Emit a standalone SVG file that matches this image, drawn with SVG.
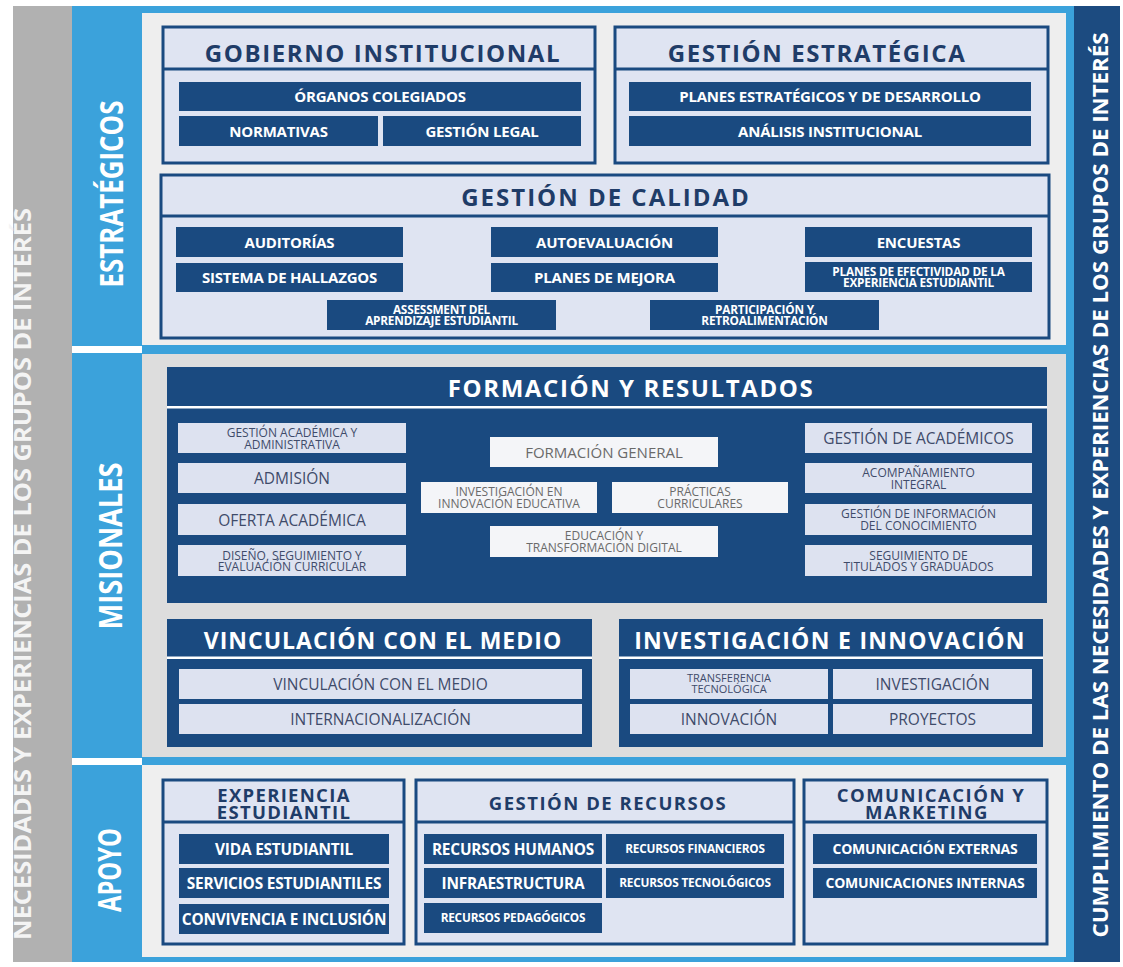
<svg xmlns="http://www.w3.org/2000/svg" width="1123" height="967" viewBox="0 0 1123 967">
<style>
.t{font-family:'Open Sans','DejaVu Sans',sans-serif;text-anchor:middle}
.nv{fill:#1a4a80}
.lb{fill:#dfe4f2;stroke:#1a4a80;stroke-width:3}
.sep{stroke:#1a4a80;stroke-width:3}
.wsep{fill:#ffffff}
.li{fill:#dde2f0}
.wi{fill:#f4f5f8}
.h1{font-size:24px;font-weight:700;fill:#1f3c68;letter-spacing:1.6px}
.h1w{font-size:23px;font-weight:700;fill:#ffffff;letter-spacing:1px}
.h2{font-size:18.5px;font-weight:700;fill:#1f3c68;letter-spacing:1.3px}
.iw{font-size:15px;font-weight:700;fill:#ffffff;letter-spacing:-0.2px}
.iws{font-size:11.8px;font-weight:700;fill:#ffffff;letter-spacing:-0.2px}
.iwm{font-size:14px;font-weight:700;fill:#ffffff;letter-spacing:-0.2px}
.tl{font-size:15.5px;fill:#3f4b6a}
.tls{font-size:12px;fill:#3f4b6a}
.tg{font-size:15px;fill:#6a6a6a}
.tgs{font-size:12px;fill:#6a6a6a}
.side{font-size:32px;font-weight:700;fill:#ffffff}
.band{font-size:23px;font-weight:700;fill:#f4f4f4}
</style>
<rect width="1123" height="967" fill="#ffffff"/>
<g id="frame">
<rect x="13" y="6" width="59" height="956" fill="#b1b1b1"/>
<rect x="72" y="6" width="1002" height="956" fill="#3ba2db"/>
<rect x="72" y="346" width="70" height="7" fill="#ffffff"/>
<rect x="72" y="758" width="70" height="7" fill="#ffffff"/>
<rect x="1074" y="6" width="46" height="956" fill="#1c4b80"/>
<rect x="142" y="13" width="924" height="332" fill="#eeeeee"/>
<rect x="142" y="354" width="924" height="403" fill="#dddddd"/>
<rect x="142" y="765" width="924" height="192" fill="#efefef"/>
</g>
<g id="labels">
<text class="t band" transform="translate(31,574) rotate(-90)" textLength="732" lengthAdjust="spacingAndGlyphs">NECESIDADES Y EXPERIENCIAS DE LOS GRUPOS DE INTERÉS</text>
<text class="t band" transform="translate(1108,485) rotate(-90)" textLength="905" lengthAdjust="spacingAndGlyphs" style="font-size:22px;fill:#ffffff">CUMPLIMIENTO DE LAS NECESIDADES Y EXPERIENCIAS DE LOS GRUPOS DE INTERÉS</text>
<text class="t side" transform="translate(123,194) rotate(-90)" textLength="187" lengthAdjust="spacingAndGlyphs">ESTRATÉGICOS</text>
<text class="t side" transform="translate(122,546) rotate(-90)" textLength="167" lengthAdjust="spacingAndGlyphs">MISIONALES</text>
<text class="t side" transform="translate(121,870) rotate(-90)" textLength="84" lengthAdjust="spacingAndGlyphs">APOYO</text>
</g>
<g id="gobierno">
<rect class="lb" x="163" y="27" width="432" height="136"/>
<line class="sep" x1="163" y1="69" x2="595" y2="69"/>
<text class="t h1" x="383" y="62">GOBIERNO INSTITUCIONAL</text>
<rect class="nv" x="179" y="82" width="402" height="29"/>
<text class="t iw" x="380" y="102">ÓRGANOS COLEGIADOS</text>
<rect class="nv" x="179" y="116" width="199" height="30"/>
<text class="t iw" x="278.5" y="136.5">NORMATIVAS</text>
<rect class="nv" x="383" y="116" width="198" height="30"/>
<text class="t iw" x="482" y="136.5">GESTIÓN LEGAL</text>
</g>
<g id="estrategica">
<rect class="lb" x="615" y="27" width="433" height="136"/>
<line class="sep" x1="615" y1="69" x2="1048" y2="69"/>
<text class="t h1" x="817" y="62">GESTIÓN ESTRATÉGICA</text>
<rect class="nv" x="629" y="82" width="402" height="29"/>
<text class="t iw" x="830" y="102">PLANES ESTRATÉGICOS Y DE DESARROLLO</text>
<rect class="nv" x="629" y="116" width="402" height="30"/>
<text class="t iw" x="830" y="136.5">ANÁLISIS INSTITUCIONAL</text>
</g>
<g id="calidad">
<rect class="lb" x="161" y="175" width="888" height="163"/>
<line class="sep" x1="161" y1="216" x2="1049" y2="216"/>
<text class="t h1" x="606" y="206" style="letter-spacing:2px">GESTIÓN DE CALIDAD</text>
<rect class="nv" x="176" y="227" width="227" height="30"/>
<text class="t iw" x="289.5" y="247.5">AUDITORÍAS</text>
<rect class="nv" x="176" y="263" width="227" height="29"/>
<text class="t iw" x="289.5" y="283">SISTEMA DE HALLAZGOS</text>
<rect class="nv" x="491" y="227" width="227" height="30"/>
<text class="t iw" x="604.5" y="247.5">AUTOEVALUACIÓN</text>
<rect class="nv" x="491" y="263" width="227" height="29"/>
<text class="t iw" x="604.5" y="283">PLANES DE MEJORA</text>
<rect class="nv" x="805" y="227" width="227" height="30"/>
<text class="t iw" x="918.5" y="247.5">ENCUESTAS</text>
<rect class="nv" x="805" y="262" width="227" height="30"/>
<text class="t iws" x="918.5" y="275.5">PLANES DE EFECTIVIDAD DE LA<tspan x="918.5" dy="11.5">EXPERIENCIA ESTUDIANTIL</tspan></text>
<rect class="nv" x="327" y="300" width="229" height="30"/>
<text class="t iws" x="441.5" y="313.5">ASSESSMENT DEL<tspan x="441.5" dy="11.5">APRENDIZAJE ESTUDIANTIL</tspan></text>
<rect class="nv" x="650" y="300" width="229" height="30"/>
<text class="t iws" x="764.5" y="313.5">PARTICIPACIÓN Y<tspan x="764.5" dy="11.5">RETROALIMENTACIÓN</tspan></text>
</g>
<g id="formacion">
<rect class="nv" x="167" y="367" width="880" height="236"/>
<rect class="wsep" x="167" y="406" width="880" height="2.5"/>
<text class="t h1w" x="631" y="397" style="font-size:24px;letter-spacing:1.6px">FORMACIÓN Y RESULTADOS</text>
<rect class="li" x="178" y="423" width="228" height="30"/>
<text class="t tls" x="292" y="437">GESTIÓN ACADÉMICA Y<tspan x="292" dy="11.5">ADMINISTRATIVA</tspan></text>
<rect class="li" x="178" y="463" width="228" height="30"/>
<text class="t tl" x="292" y="484">ADMISIÓN</text>
<rect class="li" x="178" y="504" width="228" height="31"/>
<text class="t tl" x="292" y="525.5">OFERTA ACADÉMICA</text>
<rect class="li" x="178" y="545" width="228" height="31"/>
<text class="t tls" x="292" y="559.5">DISEÑO, SEGUIMIENTO Y<tspan x="292" dy="11.5">EVALUACIÓN CURRICULAR</tspan></text>
<rect class="wi" x="490" y="437" width="228" height="30"/>
<text class="t tg" x="604" y="457.5">FORMACIÓN GENERAL</text>
<rect class="wi" x="421" y="482" width="176" height="31"/>
<text class="t tgs" x="509" y="496">INVESTIGACIÓN EN<tspan x="509" dy="11.5">INNOVACIÓN EDUCATIVA</tspan></text>
<rect class="wi" x="612" y="482" width="176" height="31"/>
<text class="t tgs" x="700" y="496">PRÁCTICAS<tspan x="700" dy="11.5">CURRICULARES</tspan></text>
<rect class="wi" x="490" y="526" width="228" height="31"/>
<text class="t tgs" x="604" y="540">EDUCACIÓN Y<tspan x="604" dy="11.5">TRANSFORMACIÓN DIGITAL</tspan></text>
<rect class="li" x="805" y="423" width="227" height="30"/>
<text class="t tl" x="918.5" y="444">GESTIÓN DE ACADÉMICOS</text>
<rect class="li" x="805" y="463" width="227" height="30"/>
<text class="t tls" x="918.5" y="477">ACOMPAÑAMIENTO<tspan x="918.5" dy="11.5">INTEGRAL</tspan></text>
<rect class="li" x="805" y="504" width="227" height="31"/>
<text class="t tls" x="918.5" y="518">GESTIÓN DE INFORMACIÓN<tspan x="918.5" dy="11.5">DEL CONOCIMIENTO</tspan></text>
<rect class="li" x="805" y="545" width="227" height="31"/>
<text class="t tls" x="918.5" y="559.5">SEGUIMIENTO DE<tspan x="918.5" dy="11.5">TITULADOS Y GRADUADOS</tspan></text>
</g>
<g id="vinculacion">
<rect class="nv" x="167" y="619" width="425" height="128"/>
<rect class="wsep" x="167" y="656.5" width="425" height="2.5"/>
<text class="t h1w" x="383" y="649">VINCULACIÓN CON EL MEDIO</text>
<rect class="li" x="179" y="669" width="403" height="30"/>
<text class="t tl" x="380.5" y="690">VINCULACIÓN CON EL MEDIO</text>
<rect class="li" x="179" y="704" width="403" height="30"/>
<text class="t tl" x="380.5" y="725">INTERNACIONALIZACIÓN</text>
</g>
<g id="investigacion">
<rect class="nv" x="619" y="619" width="424" height="128"/>
<rect class="wsep" x="619" y="656.5" width="424" height="2.5"/>
<text class="t h1w" x="830" y="649" style="letter-spacing:1.3px">INVESTIGACIÓN E INNOVACIÓN</text>
<rect class="li" x="630" y="669" width="198" height="30"/>
<text class="t tls" x="729" y="682" style="font-size:11px">TRANSFERENCIA<tspan x="729" dy="10.5">TECNOLÓGICA</tspan></text>
<rect class="li" x="833" y="669" width="199" height="30"/>
<text class="t tl" x="932.5" y="690">INVESTIGACIÓN</text>
<rect class="li" x="630" y="704" width="198" height="30"/>
<text class="t tl" x="729" y="725">INNOVACIÓN</text>
<rect class="li" x="833" y="704" width="199" height="30"/>
<text class="t tl" x="932.5" y="725">PROYECTOS</text>
</g>
<g id="experiencia">
<rect class="lb" x="163" y="780" width="241" height="164"/>
<line class="sep" x1="163" y1="822" x2="404" y2="822"/>
<text class="t h2" x="284" y="802">EXPERIENCIA<tspan x="284" dy="17">ESTUDIANTIL</tspan></text>
<rect class="nv" x="179" y="834" width="210" height="30"/>
<text class="t iw" x="284" y="854.5" style="font-size:15.4px">VIDA ESTUDIANTIL</text>
<rect class="nv" x="179" y="868" width="210" height="30"/>
<text class="t iw" x="284" y="888.5" style="font-size:15.4px">SERVICIOS ESTUDIANTILES</text>
<rect class="nv" x="179" y="904" width="210" height="30"/>
<text class="t iw" x="284" y="924.5" style="font-size:15.4px">CONVIVENCIA E INCLUSIÓN</text>
</g>
<g id="recursos">
<rect class="lb" x="416" y="780" width="378" height="164"/>
<line class="sep" x1="416" y1="822" x2="794" y2="822"/>
<text class="t h2" x="608" y="810" style="letter-spacing:1.5px">GESTIÓN DE RECURSOS</text>
<rect class="nv" x="424" y="834" width="178" height="30"/>
<text class="t iw" x="513" y="854.5" style="font-size:15.4px">RECURSOS HUMANOS</text>
<rect class="nv" x="424" y="868" width="178" height="30"/>
<text class="t iw" x="513" y="888.5" style="font-size:15.4px">INFRAESTRUCTURA</text>
<rect class="nv" x="424" y="903" width="178" height="30"/>
<text class="t iws" x="513" y="922">RECURSOS PEDAGÓGICOS</text>
<rect class="nv" x="606" y="834" width="178" height="30"/>
<text class="t iws" x="695" y="853">RECURSOS FINANCIEROS</text>
<rect class="nv" x="606" y="868" width="178" height="30"/>
<text class="t iws" x="695" y="887">RECURSOS TECNOLÓGICOS</text>
</g>
<g id="comunicacion">
<rect class="lb" x="804" y="780" width="243" height="164"/>
<line class="sep" x1="804" y1="822" x2="1047" y2="822"/>
<text class="t h2" x="931" y="802" style="letter-spacing:1.5px">COMUNICACIÓN Y<tspan x="927" dy="17">MARKETING</tspan></text>
<rect class="nv" x="813" y="834" width="224" height="30"/>
<text class="t iwm" x="925" y="854">COMUNICACIÓN EXTERNAS</text>
<rect class="nv" x="813" y="868" width="224" height="30"/>
<text class="t iwm" x="925" y="888">COMUNICACIONES INTERNAS</text>
</g>
<g id="connectors"></g>
</svg>
